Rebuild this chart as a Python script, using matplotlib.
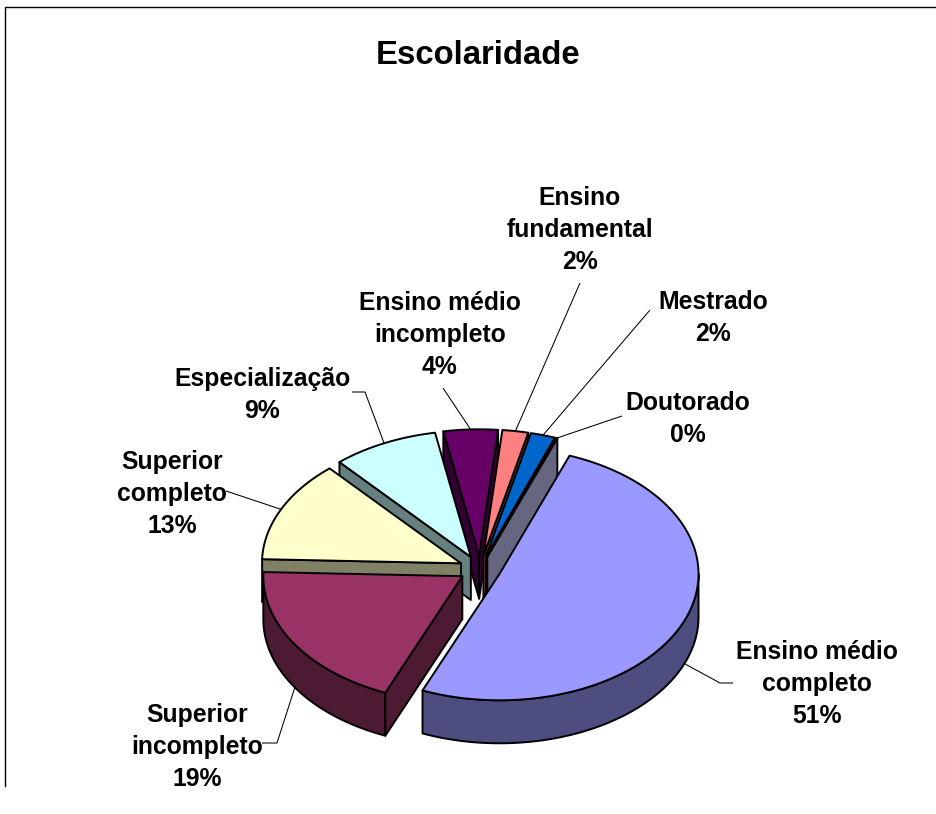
import numpy as np
import matplotlib
matplotlib.use('Agg')
import matplotlib.pyplot as plt

## -- shares, clockwise order (labels show them rounded)
names = ['Ensino médio\ncompleto', 'Superior\nincompleto', 'Superior\ncompleto',
         'Especialização', 'Ensino médio\nincompleto', 'Ensino\nfundamental',
         'Mestrado', 'Doutorado']
values = [50.6, 19.2, 13.0, 8.6, 4.4, 2.1, 2.0, 0.1]
colors = ['#9999FF', '#993366', '#FFFFCC', '#CCFFFF', '#660066', '#FF8080', '#0066CC', '#CCCCFF']
darks = ['#4D4D80', '#4D1A33', '#808066', '#668080', '#330033', '#804040', '#003366', '#666680']

## -- layout, in image pixels
cx, cy = 480.0, 569.0
rad, squash = 199.0, 0.635
explode = 21.0
depth = 43.0
start = 20.6
label_xy = [(817, 684), (197, 747), (172, 494), (262, 395), (440, 335),
            (580, 230), (713, 318), (688, 419)]
leader_mid = [(720, 683), (277, 743), None, (365, 392), None, None, None, None]
leader_end = [(733, 683), (262, 743), (226, 491), (352, 392), (443, 388),
              (580, 283), (650, 310), (622, 416)]
paint_order = [4, 5, 6, 7, 3, 2, 1, 0]

plt.rcParams['font.family'] = ['Liberation Sans', 'DejaVu Sans']
fig = plt.figure(figsize=(9.36, 8.14), dpi=100)
ax = fig.add_axes([0, 0, 1, 1])
ax.set_xlim(0, 936)
ax.set_ylim(814, 0)
ax.axis('off')


def pt(ox, oy, r, deg):
    a = np.radians(deg)
    return ox + r*np.sin(a), oy - squash*r*np.cos(a)


def face(xs, ys, col):
    ax.fill(xs, ys, facecolor=col, edgecolor='k', linewidth=1.4, joinstyle='round', zorder=3)


## -- slice angles from values
bounds = start + np.cumsum([0] + values)*3.6
apexes = []
for i in range(len(values)):
    mid = 0.5*(bounds[i] + bounds[i+1])
    apexes.append(pt(cx, cy, explode, mid))

for i in paint_order:
    ts, te = bounds[i], bounds[i+1]
    ox, oy = apexes[i]
    ## -- outer wall, only the part facing the viewer
    lo, hi = max(ts, 90), min(te, 270)
    if hi > lo:
        th = np.linspace(lo, hi, 80)
        xs, ys = pt(ox, oy, rad, th)
        face(np.r_[xs, xs[::-1]], np.r_[ys, ys[::-1] + depth], darks[i])
    ## -- cut sides
    for t, show in ((ts, np.sin(np.radians(ts)) < 0), (te, np.sin(np.radians(te)) > 0)):
        if show:
            rx, ry = pt(ox, oy, rad, t)
            face([ox, rx, rx, ox], [oy, ry, ry + depth, oy + depth], darks[i])
    ## -- top
    th = np.linspace(ts, te, 120)
    xs, ys = pt(ox, oy, rad, th)
    face(np.r_[ox, xs], np.r_[oy, ys], colors[i])

## -- leader lines, from the rim at the middle of the slice (wall foot for front slices)
for i in range(len(values)):
    mid = 0.5*(bounds[i] + bounds[i+1])
    rx, ry = pt(apexes[i][0], apexes[i][1], rad, mid)
    if 90 < mid < 270:
        ry += depth
    lx = [rx]
    ly = [ry]
    if leader_mid[i] is not None:
        lx.append(leader_mid[i][0])
        ly.append(leader_mid[i][1])
    lx.append(leader_end[i][0])
    ly.append(leader_end[i][1])
    ax.plot(lx, ly, color='k', linewidth=0.75, solid_capstyle='butt', zorder=1)

for i in range(len(values)):
    ax.text(label_xy[i][0], label_xy[i][1], names[i] + '\n' + str(round(values[i])) + '%',
            ha='center', va='center', multialignment='center', fontsize=17.8,
            fontweight='bold', linespacing=1.43, color='k', zorder=4)

ax.text(478, 55, 'Escolaridade', ha='center', va='center', fontsize=23.7, fontweight='bold', color='k')

## -- chart area border: only top and left are in frame
ax.plot([5, 5, 936], [786, 7, 7], color='k', linewidth=1.0)

fig.savefig('out.png', dpi=100, facecolor='white')
